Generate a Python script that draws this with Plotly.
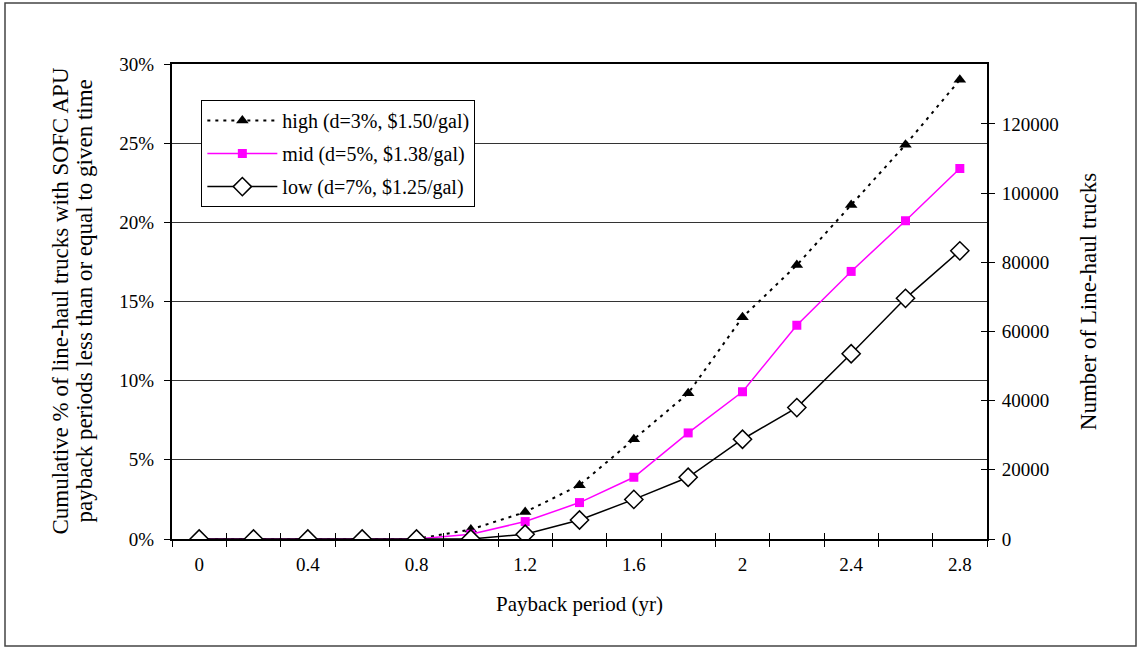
import plotly.graph_objects as go

# ---- data ----
payback_yr = [0, 0.2, 0.4, 0.6, 0.8, 1.0, 1.2, 1.4, 1.6, 1.8, 2.0, 2.2, 2.4, 2.6, 2.8]
high_pct = [0, 0, 0, 0, 0, 0.6, 1.7, 3.4, 6.3, 9.2, 14.0, 17.3, 21.1, 24.9, 29.0]
mid_pct = [0, 0, 0, 0, 0, 0.3, 1.1, 2.3, 3.9, 6.7, 9.3, 13.5, 16.9, 20.1, 23.4]
low_pct = [0, 0, 0, 0, 0, 0, 0.3, 1.2, 2.5, 3.9, 6.3, 8.3, 11.7, 15.2, 18.2]

series_names = ["high (d=3%, $1.50/gal)", "mid (d=5%, $1.38/gal)", "low (d=7%, $1.25/gal)"]
x_ticklabels = ["0", "0.4", "0.8", "1.2", "1.6", "2", "2.4", "2.8"]
x_tickvals = [0, 0.4, 0.8, 1.2, 1.6, 2.0, 2.4, 2.8]
pct_ticks = [0, 5, 10, 15, 20, 25, 30]
pct_ticklabels = ["0%", "5%", "10%", "15%", "20%", "25%", "30%"]
truck_ticks = [0, 20000, 40000, 60000, 80000, 100000, 120000]
truck_axis_max = 137300
left_title_lines = ["Cumulative % of line-haul trucks with SOFC APU",
                    "payback periods less than or equal to given time"]

FONT = "Liberation Serif, Times New Roman, serif"

fig = go.Figure()

fig.add_trace(go.Scatter(
    x=payback_yr, y=high_pct, name=series_names[0], mode="lines+markers",
    line=dict(color="black", width=2, dash="3px,5px"),
    marker=dict(symbol="triangle-up", size=11, color="black"),
    legendgroup="a",
))
fig.add_trace(go.Scatter(
    x=payback_yr, y=mid_pct, name=series_names[1], mode="lines+markers",
    line=dict(color="#FF00FF", width=1.5),
    marker=dict(symbol="square", size=9, color="#FF00FF"),
    legendgroup="b",
))
fig.add_trace(go.Scatter(
    x=payback_yr, y=low_pct, name=series_names[2], mode="lines+markers",
    line=dict(color="black", width=1.5),
    marker=dict(symbol="diamond", size=14, color="white", line=dict(color="black", width=1.5)),
    legendgroup="c",
))
# invisible carrier traces so the secondary axes are drawn
fig.add_trace(go.Scatter(x=[None], y=[None], xaxis="x2", yaxis="y2", showlegend=False, hoverinfo="skip"))
fig.add_trace(go.Scatter(x=[None], y=[None], xaxis="x", yaxis="y3", showlegend=False, hoverinfo="skip"))

fig.update_layout(
    width=1139, height=648,
    margin=dict(l=172, r=152, t=64, b=109),
    paper_bgcolor="white", plot_bgcolor="white",
    font=dict(family=FONT, size=19, color="black"),
    showlegend=True,
    legend=dict(
        x=0.036, y=0.924, xanchor="left", yanchor="top",
        bgcolor="white", bordercolor="black", borderwidth=1,
        font=dict(family=FONT, size=20, color="black"),
        itemwidth=70, tracegroupgap=4,
    ),
    xaxis=dict(
        range=[-0.1, 2.9], tickvals=x_tickvals, ticktext=x_ticklabels,
        ticks="", ticklabelstandoff=7,
        showline=True, linecolor="black", linewidth=2, mirror=True,
        showgrid=False, zeroline=False,
        minor=dict(tick0=-0.1, dtick=0.2, ticks="outside", ticklen=6, tickcolor="black", tickwidth=1, showgrid=False),
        title=dict(text="Payback period (yr)", font=dict(size=21), standoff=23),
    ),
    xaxis2=dict(
        overlaying="x", matches="x", anchor="y", side="bottom",
        range=[-0.1, 2.9], tickmode="linear", tick0=-0.1, dtick=0.2,
        ticks="inside", ticklen=6, tickcolor="black", showticklabels=False,
        showline=False, showgrid=False, zeroline=False,
    ),
    yaxis=dict(
        range=[0, 30], tickvals=pct_ticks, ticktext=pct_ticklabels,
        ticks="outside", ticklen=6, tickcolor="black",
        showline=True, linecolor="black", linewidth=2, mirror=True,
        showgrid=True, gridcolor="#333333", gridwidth=1, zeroline=False,
        ticklabelstandoff=6,
    ),
    yaxis2=dict(
        overlaying="y", side="right", anchor="x2",
        range=[0, truck_axis_max], tickvals=truck_ticks, tickformat="d",
        ticks="outside", ticklen=6, tickcolor="black",
        showline=True, linecolor="black", linewidth=2,
        showgrid=False, zeroline=False, ticklabelstandoff=3,
        title=dict(text="Number of Line-haul trucks", font=dict(size=23), standoff=22),
    ),
    yaxis3=dict(
        overlaying="y", side="right", anchor="x",
        range=[0, truck_axis_max], tickvals=truck_ticks,
        ticks="inside", ticklen=6, tickcolor="black", showticklabels=False,
        showline=False, showgrid=False, zeroline=False,
    ),
)

# left axis title as two rotated lines (tighter line spacing, like the original)
for line_text, px in zip(left_title_lines, [60, 84]):
    fig.add_annotation(text=line_text, xref="paper", yref="paper",
                       x=(px - 172) / 815, y=0.5, xanchor="center", yanchor="middle",
                       textangle=-90, showarrow=False, font=dict(family=FONT, size=23, color="black"))

# outer chart frame
fig.add_shape(type="rect", xref="paper", yref="paper",
              x0=(5 - 172) / 815, x1=(1136 - 172) / 815,
              y0=(539 - 646) / 475, y1=(539 - 3) / 475,
              line=dict(color="#444444", width=1.5), fillcolor="rgba(0,0,0,0)", layer="below")

fig.write_html("out.html", config={"displayModeBar": False},
               post_script="document.body.style.margin='0';")
